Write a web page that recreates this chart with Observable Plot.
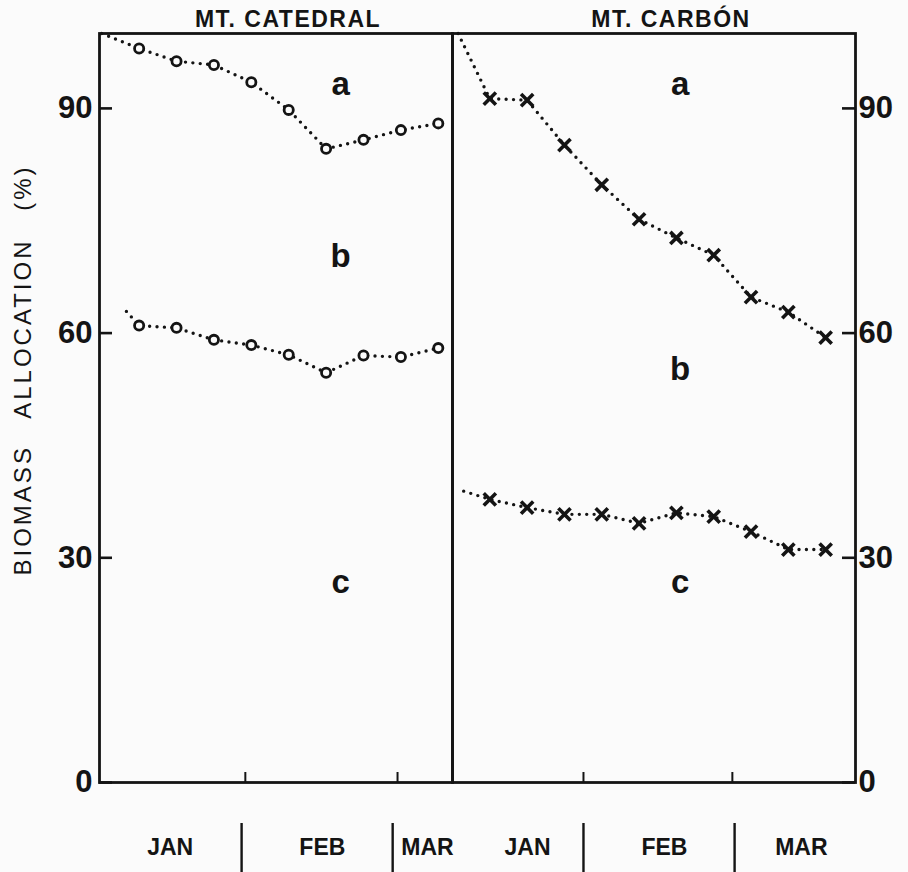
<!DOCTYPE html>
<html><head><meta charset="utf-8">
<script src="https://cdn.jsdelivr.net/npm/d3@7"></script>
<script src="https://cdn.jsdelivr.net/npm/@observablehq/plot@0.6"></script>
<style>
html,body{margin:0;padding:0;background:#fbfbfb;}
#chart{display:flex;width:908px;height:872px;}
#chart svg{overflow:visible;display:block;flex:none;}
</style></head><body><div id="chart"></div>
<script>
// ---- data ----
const panelTitles = ["MT. CATEDRAL", "MT. CARBÓN"];
const monthNames = ["JAN", "FEB", "MAR"];
const yTicks = [0, 30, 60, 90];
const regionNames = ["a", "b", "c"];
const yTitle = "BIOMASS ALLOCATION (%)";

// Mt. Catedral (circles): cumulative boundaries a|b (upper) and b|c (lower)
const catedralSample = [1, 2, 3, 4, 5, 6, 7, 8, 9];
const catedralUpper = [98.0, 96.3, 95.8, 93.5, 89.8, 84.6, 85.8, 87.1, 88.0];
const catedralLower = [61.0, 60.7, 59.1, 58.4, 57.1, 54.7, 57.0, 56.8, 58.0];
const catedralUpperStart = [0, 100];
const catedralLowerStart = [0.66, 62.9];
const catedralDomain = [-0.06, 9.38];
const catedralMonthTicks = [3.84, 7.91];
const catedralMonthDividers = [3.74, 7.78];
const catedralMonthLabelAt = [1.83, 5.9, 8.71];
const catedralRegionX = [6.39, 6.39, 6.39];
const catedralRegionY = [93.2, 70.3, 26.7];

// Mt. Carbón (crosses)
const carbonSample = [1, 2, 3, 4, 5, 6, 7, 8, 9, 10];
const carbonUpper = [91.3, 91.1, 85.1, 79.8, 75.2, 72.7, 70.4, 64.8, 62.8, 59.4];
const carbonLower = [37.8, 36.7, 35.8, 35.8, 34.6, 36.0, 35.5, 33.5, 31.1, 31.1];
const carbonUpperStart = [0.15, 100];
const carbonLowerStart = [0.3, 38.9];
const carbonDomain = [0, 10.8];
const carbonMonthTicks = [3.51, 7.5];
const carbonMonthDividers = [3.51, 7.56];
const carbonMonthLabelAt = [2.01, 5.68, 9.35];
const carbonRegionX = [6.1, 6.1, 6.1];
const carbonRegionY = [93.2, 55.2, 26.7];

const INK = "#141414";
const BG = "#fbfbfb";
const FONT = "'Liberation Sans', Arial, Helvetica, sans-serif";
const TICK = 13;

function panel(o) {
  const frameW = o.width - o.ml - o.mr;
  const series = (start, vals) => [{x: start[0], y: start[1]}, ...o.sample.map((x, i) => ({x, y: vals[i]}))];
  const pts = [...o.sample.map((x, i) => ({x, y: o.upper[i]})), ...o.sample.map((x, i) => ({x, y: o.lower[i]}))];
  const regions = regionNames.map((t, i) => ({t, x: o.regionX[i], y: o.regionY[i]}));
  const dotted = {x: "x", y: "y", stroke: INK, strokeWidth: 3.4, strokeDasharray: "0 7.4", strokeLinecap: "round"};
  const marks = [
    Plot.line(series(o.upperStart, o.upper), dotted),
    Plot.line(series(o.lowerStart, o.lower), dotted),
    o.symbol === "circle"
      ? Plot.dot(pts, {x: "x", y: "y", symbol: "circle", r: 4.6, stroke: INK, strokeWidth: 2.8, fill: BG})
      : Plot.dot(pts, {x: "x", y: "y", symbol: "times", r: 5.6, stroke: INK, strokeWidth: 3.6}),
    Plot.frame({stroke: INK, strokeWidth: 2.8}),
    Plot.tickY(yTicks, {y: d => d, stroke: INK, strokeWidth: 2.6,
      insetRight: o.side === "left" ? frameW - TICK : 0,
      insetLeft: o.side === "right" ? frameW - TICK : 0}),
    Plot.axisY({anchor: o.side, ticks: yTicks, tickSize: 0, tickPadding: o.side === "left" ? 7 : 3, fontSize: 31, fontWeight: "bold", fill: INK, label: null}),
    Plot.axisX({anchor: "bottom", ticks: o.monthTicks, tickSize: -10, fill: "none", stroke: INK, strokeWidth: 2}),
    Plot.axisX({anchor: "bottom", ticks: o.dividers, tickSize: 49, dy: 41, fill: "none", stroke: INK, strokeWidth: 2.4}),
    Plot.text(monthNames, {x: (d, i) => o.labelAt[i], text: d => d, frameAnchor: "bottom", lineAnchor: "middle", dy: 65, fontSize: 23, fontWeight: "bold", fill: INK}),
    Plot.text([o.title], {text: d => d, frameAnchor: "top", lineAnchor: "top", dx: o.titleDx, dy: -23, fontSize: 23, fontWeight: "bold", fill: INK}),
    Plot.text(regions, {x: "x", y: "y", text: "t", fontSize: 33, fontWeight: "bold", fill: INK})
  ];
  if (o.side === "left") {
    marks.push(Plot.text([yTitle], {text: d => d, frameAnchor: "left", textAnchor: "middle", lineAnchor: "middle",
      rotate: -90, dx: -76, dy: -38, fontSize: 24, fill: INK}));
  }
  return Plot.plot({
    width: o.width, height: 872,
    marginLeft: o.ml, marginRight: o.mr, marginTop: 33, marginBottom: 90,
    x: {domain: o.domain},
    y: {domain: [0, 100]},
    style: {background: "transparent", fontFamily: FONT, overflow: "visible", color: INK},
    marks
  });
}

const left = panel({
  width: 452, ml: 99, mr: 0, side: "left", symbol: "circle", title: panelTitles[0], titleDx: 12,
  sample: catedralSample, upper: catedralUpper, lower: catedralLower,
  upperStart: catedralUpperStart, lowerStart: catedralLowerStart, domain: catedralDomain,
  monthTicks: catedralMonthTicks, dividers: catedralMonthDividers, labelAt: catedralMonthLabelAt,
  regionX: catedralRegionX, regionY: catedralRegionY
});
const right = panel({
  width: 456, ml: 0, mr: 53, side: "right", symbol: "times", title: panelTitles[1], titleDx: 17,
  sample: carbonSample, upper: carbonUpper, lower: carbonLower,
  upperStart: carbonUpperStart, lowerStart: carbonLowerStart, domain: carbonDomain,
  monthTicks: carbonMonthTicks, dividers: carbonMonthDividers, labelAt: carbonMonthLabelAt,
  regionX: carbonRegionX, regionY: carbonRegionY
});
const chart = document.getElementById("chart");
chart.appendChild(left);
chart.appendChild(right);

d3.selectAll("#chart text").filter(function () { return this.textContent === yTitle; })
  .attr("letter-spacing", "3px").attr("word-spacing", "18px");
d3.selectAll("#chart text").filter(function () { return panelTitles.includes(this.textContent); })
  .attr("letter-spacing", "1.5px");
</script></body></html>
